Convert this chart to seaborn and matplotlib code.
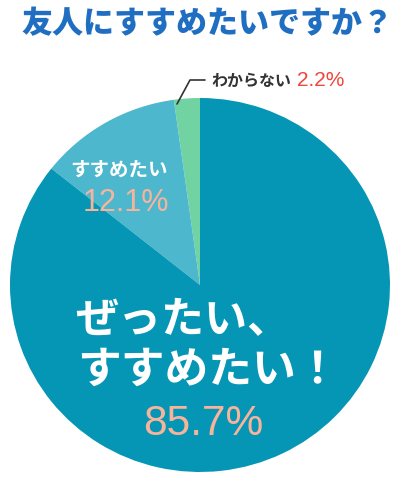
import matplotlib
matplotlib.use("Agg")
import matplotlib.pyplot as plt
import seaborn as sns

# Survey answers, counter-clockwise from the top
answers = ["わからない", "すすめたい", "ぜったい、すすめたい！"]
shares = [2.2, 12.1, 85.7]
slice_colors = ["#72d3a2", "#4cb7cd", "#0596b5"]

title = "友人にすすめたいですか？"

sns.set_theme(style="white")
plt.rcParams["font.family"] = ["Noto Sans CJK JP", "DejaVu Sans"]

W, H = 400, 481
fig = plt.figure(figsize=(W / 100, H / 100), dpi=100)
fig.patch.set_facecolor("white")


def px(x, y):
    # pixel coords (top-left origin) -> figure fraction
    return x / W, 1 - y / H


# pie area: left 10, right 390, top 99, bottom 473
ax = fig.add_axes([10 / W, (H - 473) / H, 380 / W, 374 / H])
ax.pie(
    shares,
    colors=slice_colors,
    startangle=90,
    counterclock=True,
    radius=1,
    wedgeprops=dict(linewidth=0),
)
ax.set_aspect("auto")
ax.set_xlim(-1, 1)
ax.set_ylim(-1, 1)
ax.axis("off")

# title
fig.text(*px(207, 24), title, ha="center", va="center", fontsize=22.3,
         fontweight=900, color="#1f6ec2")

# leader line for the small slice
lx, ly = zip(*[px(177, 105), px(190, 81), px(205, 81)])
fig.add_artist(plt.Line2D(lx, ly, color="#333333", lw=1.2,
                          transform=fig.transFigure))

fig.text(*px(211, 81), answers[0], ha="left", va="center", fontsize=11.5,
         fontweight="bold", color="#333333")
fig.text(*px(297, 81), f"{shares[0]}%", ha="left", va="center", fontsize=15,
         family="Liberation Sans", color="#f0463c")

# mid slice
fig.text(*px(119, 170), answers[1], ha="center", va="center", fontsize=14,
         fontweight="bold", color="white")
fig.text(*px(126, 203), f"{shares[1]}%", ha="center", va="center", fontsize=22,
         family="Liberation Sans", color="#f8b49b")

# big slice
fig.text(*px(75, 320), "ぜったい、", ha="left", va="center", fontsize=31,
         fontweight="bold", color="white")
fig.text(*px(77, 370), "すすめたい！", ha="left", va="center", fontsize=31.5,
         fontweight="bold", color="white")
fig.text(*px(203, 424), f"{shares[2]}%", ha="center", va="center", fontsize=30.5,
         family="Liberation Sans", color="#f8b49b")

fig.savefig("out.png", dpi=100, facecolor="white")
